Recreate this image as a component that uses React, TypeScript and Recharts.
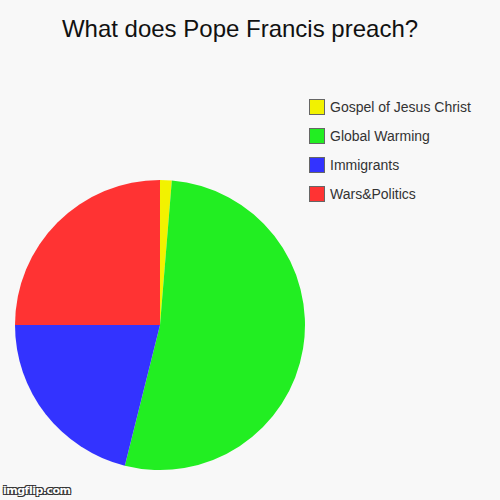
import { PieChart, Pie, Cell, Legend } from "recharts";

const categories = ["Gospel of Jesus Christ", "Global Warming", "Immigrants", "Wars&Politics"];
const shares = [1.3, 52.6, 21.1, 25.0];
const colors = ["#f2f200", "#22ee22", "#3333ff", "#ff3333"];

const data = categories.map((name, i) => ({ name, value: shares[i] }));

function LegendBox() {
  return (
    <div>
      {categories.map((name, i) => (
        <div key={name} style={{ display: "flex", alignItems: "center", height: 16, marginBottom: 13 }}>
          <div
            style={{
              width: 14,
              height: 14,
              backgroundColor: colors[i],
              border: "1px solid #666",
              marginRight: 5,
            }}
          />
          <span style={{ fontSize: 14, color: "#333", fontFamily: "Liberation Sans, Arial, sans-serif" }}>{name}</span>
        </div>
      ))}
    </div>
  );
}

export default function App() {
  return (
    <div style={{ position: "absolute", left: 0, top: 0, width: 500, height: 500, background: "#f8f8f8" }}>
      <div
        style={{
          position: "absolute",
          left: 0,
          top: 15,
          width: 480,
          textAlign: "center",
          fontSize: 24,
          color: "#111",
          fontFamily: "Liberation Sans, Arial, sans-serif",
        }}
      >
        What does Pope Francis preach?
      </div>
      <PieChart width={500} height={500} margin={{ top: 0, right: 0, bottom: 0, left: 0 }}>
        <Pie
          data={data}
          dataKey="value"
          nameKey="name"
          cx={160}
          cy={325}
          outerRadius={145}
          startAngle={90}
          endAngle={-270}
          stroke="none"
          isAnimationActive={false}
        >
          {data.map((entry, i) => (
            <Cell key={entry.name} fill={colors[i]} />
          ))}
        </Pie>
        <Legend
          layout="vertical"
          content={() => <LegendBox />}
          wrapperStyle={{ position: "absolute", left: 309, top: 99, width: 190 }}
        />
      </PieChart>
      <div
        style={{
          position: "absolute",
          left: 3,
          top: 484,
          fontSize: 11,
          fontWeight: "bold",
          color: "#fff",
          fontFamily: "DejaVu Sans, sans-serif",
          textShadow: "-1px -1px 0 #333, 1px -1px 0 #333, -1px 1px 0 #333, 1px 1px 0 #333",
          letterSpacing: -0.5,
        }}
      >
        imgflip.com
      </div>
    </div>
  );
}
